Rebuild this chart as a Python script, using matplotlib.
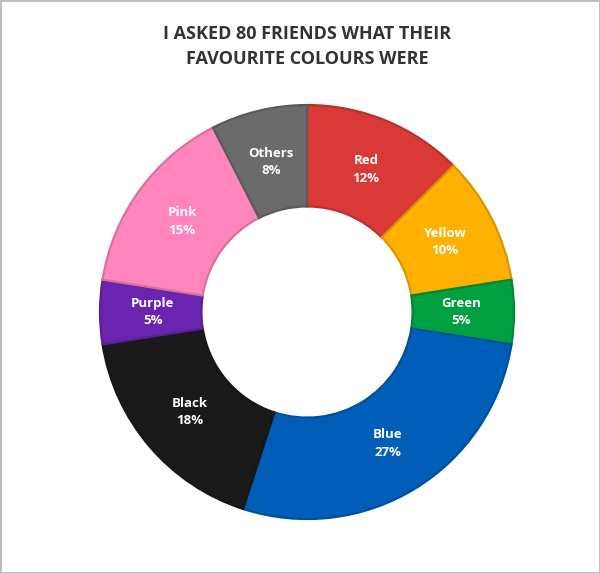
import matplotlib.pyplot as plt
from matplotlib.patches import Rectangle
import matplotlib.colors as mcolors
import numpy as np

# data: answers from 80 friends
categories = ['Red', 'Yellow', 'Green', 'Blue', 'Black', 'Purple', 'Pink', 'Others']
counts = [10, 8, 4, 22, 14, 4, 12, 6]
pct_labels = ['12%', '10%', '5%', '27%', '18%', '5%', '15%', '8%']
colours = ['#D93A37', '#FFB000', '#00A040', '#005EB8', '#1A1A1A', '#6A25B0', '#FF85BC', '#6B6B6B']

plt.rcParams['font.family'] = ['Open Sans', 'DejaVu Sans']

fig = plt.figure(figsize=(6, 5.73), dpi=100)
ax = fig.add_axes([0.1667, 0.0942, 0.69, 0.7225])


def darker(c, f=0.85):
    r, g, b = mcolors.to_rgb(c)
    return (r * f, g * f, b * f)


wedges, _ = ax.pie(counts, colors=colours, startangle=90, counterclock=False,
                   radius=1.0, wedgeprops=dict(width=0.49))
for w, c in zip(wedges, colours):
    w.set_edgecolor(darker(c))
    w.set_linewidth(1.6)

labels = [f'{c}\n{p}' for c, p in zip(categories, pct_labels)]
for w, lab in zip(wedges, labels):
    ang = np.deg2rad((w.theta1 + w.theta2) / 2)
    r = 0.745
    ax.text(r * np.cos(ang), r * np.sin(ang), lab, ha='center', va='center',
            color='white', fontsize=9.5, fontweight='bold', linespacing=1.45)

ax.set_xlim(-1, 1)
ax.set_ylim(-1, 1)
ax.set_aspect('equal')
ax.axis('off')

fig.text(0.512, 0.919, 'I ASKED 80 FRIENDS WHAT THEIR\nFAVOURITE COLOURS WERE',
         ha='center', va='center', fontsize=13, fontweight='bold',
         color='#333333', linespacing=1.45)

fig.patches.append(Rectangle((0, 0), 1, 1, transform=fig.transFigure,
                             fill=False, edgecolor='#bbbbbb', linewidth=2))

fig.savefig('out.png', dpi=100)
